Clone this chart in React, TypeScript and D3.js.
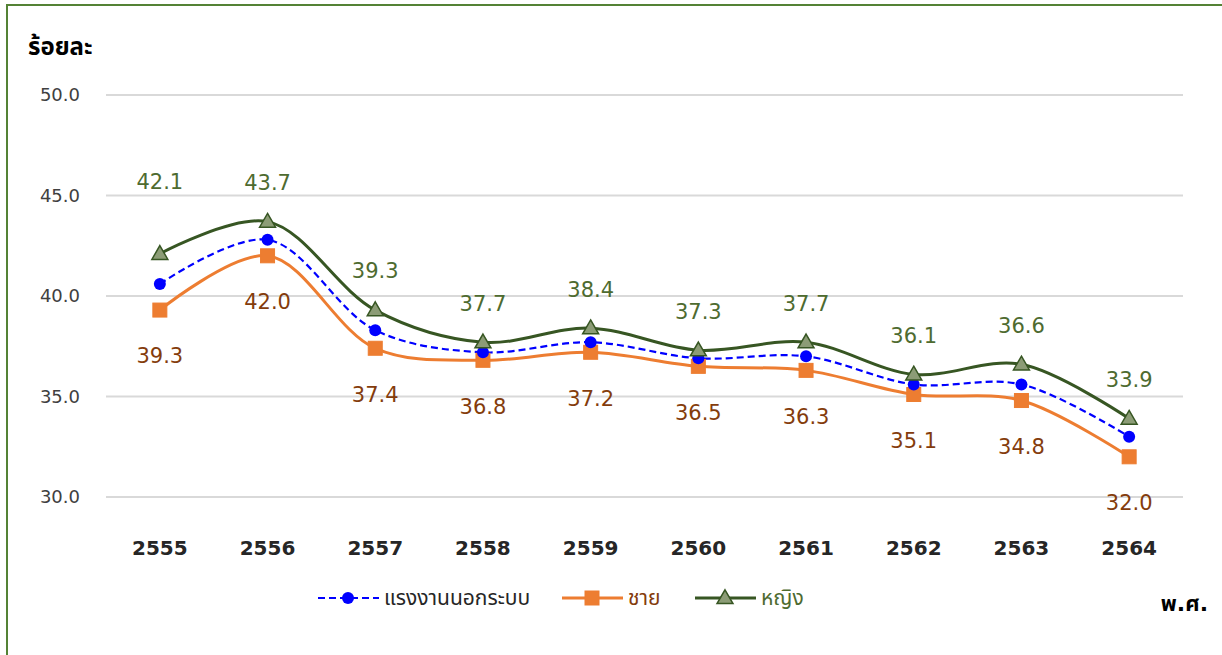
import React, { useRef, useEffect } from 'react';
import * as d3 from 'd3';

const years = ['2555', '2556', '2557', '2558', '2559', '2560', '2561', '2562', '2563', '2564'];
const informal = [40.6, 42.8, 38.3, 37.2, 37.7, 36.9, 37.0, 35.6, 35.6, 33.0];
const male = [39.3, 42.0, 37.4, 36.8, 37.2, 36.5, 36.3, 35.1, 34.8, 32.0];
const female = [42.1, 43.7, 39.3, 37.7, 38.4, 37.3, 37.7, 36.1, 36.6, 33.9];
const yTicks = [30, 35, 40, 45, 50];

const W = 1222;
const H = 655;
const FONT = 'Tahoma, "DejaVu Sans", "Noto Sans Thai", sans-serif';

const App = () => {
  const svgRef = useRef<SVGSVGElement | null>(null);

  useEffect(() => {
    const svg = d3.select(svgRef.current);
    svg.selectAll('*').remove();

    const x = d3.scalePoint<string>().domain(years).range([106, 1183]).padding(0.5);
    const y = d3.scaleLinear().domain([30, 50]).range([497, 95]);

    // frame
    svg.append('rect')
      .attr('x', 7).attr('y', 5)
      .attr('width', W + 10).attr('height', H + 10)
      .attr('fill', 'white')
      .attr('stroke', '#548235').attr('stroke-width', 2);

    // gridlines + y labels
    yTicks.forEach(t => {
      svg.append('line')
        .attr('x1', 106).attr('x2', 1183)
        .attr('y1', y(t)).attr('y2', y(t))
        .attr('stroke', '#d9d9d9').attr('stroke-width', 2);
      svg.append('text')
        .attr('x', 80).attr('y', y(t)).attr('dy', '0.35em')
        .attr('text-anchor', 'end')
        .attr('font-family', FONT).attr('font-size', 18)
        .attr('fill', '#404040')
        .text(t.toFixed(1));
    });

    svg.append('text')
      .attr('x', 28).attr('y', 55)
      .attr('font-family', FONT).attr('font-size', 24).attr('font-weight', 'bold')
      .attr('fill', '#000')
      .text('ร้อยละ');

    // x labels
    years.forEach(yr => {
      svg.append('text')
        .attr('x', x(yr)!).attr('y', 548).attr('dy', '0.35em')
        .attr('text-anchor', 'middle')
        .attr('font-family', FONT).attr('font-size', 20).attr('font-weight', 'bold')
        .attr('fill', '#262626')
        .text(yr);
    });

    svg.append('text')
      .attr('x', 1208).attr('y', 603).attr('dy', '0.35em')
      .attr('text-anchor', 'end')
      .attr('font-family', FONT).attr('font-size', 22).attr('font-weight', 'bold')
      .attr('fill', '#000')
      .text('พ.ศ.');

    const line = d3.line<number>()
      .x((_, i) => x(years[i])!)
      .y(d => y(d))
      .curve(d3.curveCatmullRom.alpha(0.5));

    const series = [
      { values: male, color: '#ED7D31', dash: null, marker: 'square' },
      { values: informal, color: '#0000FF', dash: '7,4', marker: 'circle' },
      { values: female, color: '#375623', dash: null, marker: 'triangle' },
    ];

    series.forEach(s => {
      svg.append('path')
        .attr('d', line(s.values))
        .attr('fill', 'none')
        .attr('stroke', s.color)
        .attr('stroke-width', s.dash ? 2.2 : 3)
        .attr('stroke-dasharray', s.dash);
    });

    const drawMarker = (kind: string, cx: number, cy: number) => {
      if (kind === 'circle') {
        svg.append('circle').attr('cx', cx).attr('cy', cy).attr('r', 6).attr('fill', '#0000FF');
      } else if (kind === 'square') {
        svg.append('rect').attr('x', cx - 7).attr('y', cy - 7).attr('width', 14).attr('height', 14)
          .attr('fill', '#ED7D31').attr('stroke', '#ED7D31');
      } else {
        const sym = d3.symbol().type(d3.symbolTriangle).size(110);
        svg.append('path').attr('d', sym()).attr('transform', `translate(${cx},${cy + 1})`)
          .attr('fill', '#8C9C76').attr('stroke', '#375623').attr('stroke-width', 1.5);
      }
    };

    series.forEach(s => {
      s.values.forEach((v, i) => drawMarker(s.marker, x(years[i])!, y(v)));
    });

    // data labels
    female.forEach((v, i) => {
      const off = i === 0 ? 72 : 39;
      svg.append('text')
        .attr('x', x(years[i])!).attr('y', y(v) - off).attr('dy', '0.35em')
        .attr('text-anchor', 'middle')
        .attr('font-family', FONT).attr('font-size', 21)
        .attr('fill', '#4E6B30')
        .text(v.toFixed(1));
    });
    male.forEach((v, i) => {
      svg.append('text')
        .attr('x', x(years[i])!).attr('y', y(v) + 46).attr('dy', '0.35em')
        .attr('text-anchor', 'middle')
        .attr('font-family', FONT).attr('font-size', 21)
        .attr('fill', '#843C0C')
        .text(v.toFixed(1));
    });

    // legend
    const ly = 598;
    const legend = [
      { x0: 318, label: 'แรงงานนอกระบบ', color: '#0000FF', dash: '7,4', marker: 'circle', text: '#262626' },
      { x0: 562, label: 'ชาย', color: '#ED7D31', dash: null, marker: 'square', text: '#843C0C' },
      { x0: 695, label: 'หญิง', color: '#375623', dash: null, marker: 'triangle', text: '#4E6B30' },
    ];
    legend.forEach(l => {
      svg.append('line')
        .attr('x1', l.x0).attr('x2', l.x0 + 61).attr('y1', ly).attr('y2', ly)
        .attr('stroke', l.color).attr('stroke-width', l.dash ? 2.2 : 3)
        .attr('stroke-dasharray', l.dash);
      drawMarker(l.marker, l.x0 + 30, ly);
      svg.append('text')
        .attr('x', l.x0 + 66).attr('y', ly).attr('dy', '0.35em')
        .attr('font-family', FONT).attr('font-size', 21)
        .attr('fill', l.text)
        .text(l.label);
    });
  }, []);

  return (
    <div style={{ position: 'absolute', left: 0, top: 0 }}>
      <svg ref={svgRef} width={W} height={H} style={{ display: 'block' }}></svg>
    </div>
  );
};

export default App;
